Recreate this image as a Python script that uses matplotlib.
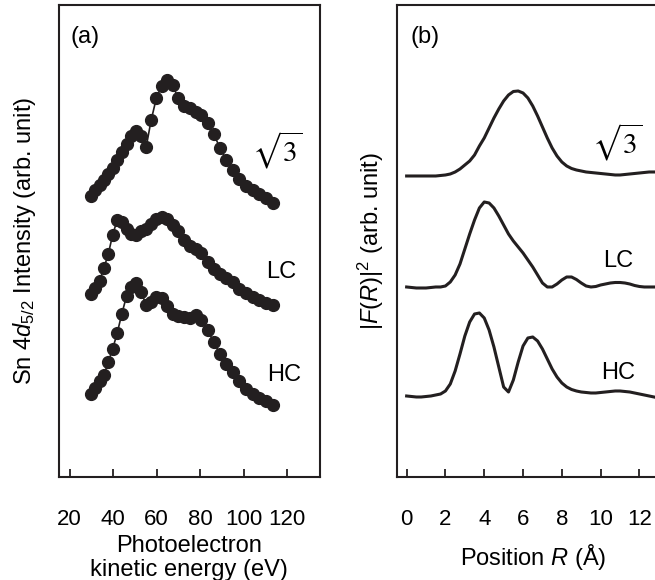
import numpy as np
import matplotlib
matplotlib.use('Agg')
from matplotlib import pyplot as plt

plt.rcParams['font.family'] = ['Liberation Sans', 'DejaVu Sans']
plt.rcParams['mathtext.fontset'] = 'custom'
plt.rcParams['mathtext.rm'] = 'Liberation Sans'
plt.rcParams['mathtext.it'] = 'Liberation Sans:italic'
plt.rcParams['mathtext.bf'] = 'Liberation Sans:bold'

ink = '#231f20'

# (a) photoelectron kinetic energy (eV)
energy = [30, 31.9, 33.8, 35.8, 37.8, 39.8, 41.9, 44.0, 46.2, 48.4, 50.6, 52.9,
          55.2, 57.5, 59.9, 62.3, 64.8, 67.3, 69.9, 72.5, 75.2, 77.9, 80.6, 83.4,
          86.2, 89.1, 92.0, 95.0, 98.0, 101.0, 104.1, 107.2, 110.4, 113.6]
int_sqrt3 = [281, 287, 292, 297, 303, 309, 317, 325, 333, 341, 346, 341, 330, 357,
             379, 391, 397, 392, 379, 371, 369, 365, 362, 354, 343, 329, 317, 307,
             298, 291, 287, 283, 279, 274]
int_lc = [183, 189, 196, 209, 223, 242, 257, 255, 248, 243, 242, 246, 248, 253,
          258, 260, 258, 252, 246, 237, 231, 228, 224, 215, 208, 203, 199, 195,
          188, 184, 180, 177, 174, 172]
int_hc = [83, 89, 96, 102, 115, 128, 144, 163, 181, 190, 194, 185, 172, 175, 180,
          179, 171, 163, 161, 160, 159, 162, 157, 147, 135, 123, 113, 105, 96, 88,
          83, 79, 76, 72]

# (b) |F(R)|^2 vs position R (A)
R = np.arange(0, 12.8, 0.25)
F_sqrt3 = [301, 301, 301, 301, 301, 301, 301, 301.5, 302, 303, 305, 308, 312, 316,
           322, 331, 339, 349, 359, 368, 376, 382, 385.5, 386, 384, 379, 371, 361,
           350, 339, 329, 321, 315, 311, 308.5, 307, 306, 305, 304.5, 304, 303.5,
           303, 302.5, 302, 302, 302.5, 303, 303.5, 304, 304.5, 305, 305]
F_lc = [190, 189.5, 189, 189, 189, 189.5, 190, 190, 191, 195, 202, 213, 228, 243,
        257, 269, 275, 274, 269, 261, 252, 243, 236, 230, 224, 217, 210, 202, 194,
        190, 190, 193, 197, 200, 200, 197.5, 194, 191, 190, 190.5, 192, 193, 194,
        194.5, 194.5, 194, 193, 191.5, 190.5, 190, 190, 190]
F_hc = [81, 80.5, 80, 80, 80.5, 81, 82, 83, 86, 93, 106, 123, 141, 155, 163, 164,
        159, 147, 130, 110, 90, 85, 97, 115, 131, 139, 140, 136, 128, 118, 108, 100,
        94, 90, 87.5, 86, 85, 84.5, 84, 84, 84.5, 85, 85.5, 86, 86, 85.5, 85, 84, 83,
        82, 81, 80]

fig = plt.figure(figsize=(6.55, 5.8), dpi=100)
ax1 = fig.add_axes([0.0895, 0.1776, 0.399, 0.8138])
ax2 = fig.add_axes([0.606, 0.1776, 0.4147, 0.8138])

fs = 17
for ax in (ax1, ax2):
    for s in ax.spines.values():
        s.set_linewidth(1.5)
        s.set_color(ink)
    ax.tick_params(axis='x', direction='in', length=6, width=1.3, color=ink,
                   labelsize=16, pad=23)
    ax.set_yticks([])
    ax.set_ylim(0, 472)

for y in (int_sqrt3, int_lc, int_hc):
    ax1.plot(energy, y, '-o', color=ink, lw=1.2, ms=8.5)
ax1.set_xlim(15, 135)
ax1.set_xticks([20, 40, 60, 80, 100, 120])
ax1.set_xlabel('Photoelectron\nkinetic energy (eV)', fontsize=fs, labelpad=4,
               linespacing=1.1)
ax1.set_ylabel(r'Sn 4$d_{5/2}$ Intensity (arb. unit)', fontsize=fs, labelpad=15)
ax1.text(0.045, 0.955, '(a)', transform=ax1.transAxes, fontsize=fs, va='top')
ax1.text(0.837, 0.693, r'$\sqrt{3}$', transform=ax1.transAxes, fontsize=21,
         ha='center', va='center', math_fontfamily='stix')
ax1.text(0.853, 0.434, 'LC', transform=ax1.transAxes, fontsize=fs, ha='center', va='center')
ax1.text(0.861, 0.216, 'HC', transform=ax1.transAxes, fontsize=fs, ha='center', va='center')

for y in (F_sqrt3, F_lc, F_hc):
    ax2.plot(R, y, '-', color=ink, lw=2.2)
ax2.set_xlim(-0.5, 13.5)
ax2.set_xticks([0, 2, 4, 6, 8, 10, 12])
ax2.set_xlabel(r'Position $R$ (Å)', fontsize=fs, labelpad=9)
ax2.set_ylabel(r'$|F(R)|^2$ (arb. unit)', fontsize=fs, labelpad=8)
ax2.text(0.05, 0.955, '(b)', transform=ax2.transAxes, fontsize=fs, va='top')
ax2.text(220 / 271.6, 0.71, r'$\sqrt{3}$', transform=ax2.transAxes, fontsize=21,
         ha='center', va='center', math_fontfamily='stix')
ax2.text(221 / 271.6, 0.458, 'LC', transform=ax2.transAxes, fontsize=fs, ha='center', va='center')
ax2.text(221 / 271.6, 0.22, 'HC', transform=ax2.transAxes, fontsize=fs, ha='center', va='center')

fig.savefig('out.png', dpi=100)
